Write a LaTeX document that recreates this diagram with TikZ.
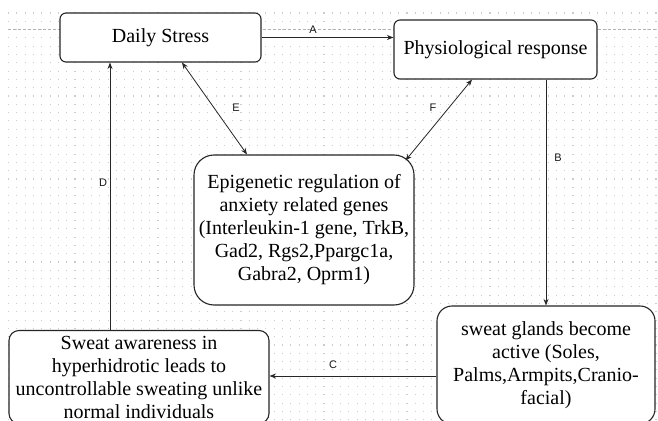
\documentclass[tikz,border=0pt]{standalone}
\usepackage{fontspec}
\setmainfont{Liberation Serif}
\newfontfamily\lblfont{Liberation Sans}
\usetikzlibrary{arrows.meta,calc}
\tikzset{
  box/.style={draw=black!85, line width=1.1pt, fill=white, align=center, inner sep=0pt,
    font=\fontsize{20}{23}\selectfont},
  conn/.style={draw=black!85, line width=0.8pt, -{Stealth[length=6.5pt,width=5pt]}},
  dconn/.style={draw=black!85, line width=0.8pt, {Stealth[length=6.5pt,width=5pt]}-{Stealth[length=6.5pt,width=5pt]}},
  lbl/.style={font=\lblfont\fontsize{11}{13}\selectfont, inner sep=0pt, text=black!90},
}
\begin{document}
\begin{tikzpicture}[x=1pt,y=-1pt]
\useasboundingbox (0,0) rectangle (658,420);
\clip (0,0) rectangle (658,420);
\fill[white] (0,0) rectangle (658,420);
% dotted grid
\foreach \r in {0,...,51}{
  \draw[black!20, line width=1.1pt, dash pattern=on 1.1pt off 7.2pt] (8,13+8.3*\r) -- (660,13+8.3*\r);
}
\draw[black!30, line width=0.8pt, dash pattern=on 3pt off 2pt] (8,29) -- (658,29);

% nodes
\node[box, rounded corners=6pt, minimum width=201pt, minimum height=49pt] (ds) at (160.5,37.5) {Daily Stress};
\node[box, rounded corners=6pt, minimum width=203pt, minimum height=59pt] (phys) at (495.5,49.5) {Physiological response};
\node[box, rounded corners=20pt, minimum width=220pt, minimum height=150pt] (epi) at (304,230) {Epigenetic regulation of\\anxiety related genes\\(Interleukin-1 gene, TrkB,\\Gad2, Rgs2,Ppargc1a,\\Gabra2, Oprm1)};
\node[box, rounded corners=15pt, minimum width=218pt, minimum height=118pt] (sg) at (546,365) {sweat glands become\\active (Soles,\\Palms,Armpits,Cranio-\\facial)};
\node[box, rounded corners=10pt, minimum width=260pt, minimum height=93pt] (sa) at (139,377) {Sweat awareness in\\hyperhidrotic leads to\\uncontrollable sweating unlike\\normal individuals};

% helper coordinates
\coordinate (dx) at (110,0);
\coordinate (cy) at (0,376);
\coordinate (ex1) at (182,0);
\coordinate (ex2) at (247,0);
\coordinate (fx1) at (472,0);

% connectors
\draw[conn] (ds.east) -- (ds.east -| phys.west);
\draw[conn] (sg.north |- phys.south) -- (sg.north);
\draw[conn] (sg.west |- cy) -- (sa.east |- cy);
\draw[conn] (sa.north -| dx) -- (ds.south -| dx);
\draw[dconn] (ds.south -| ex1) -- (epi.north -| ex2);
\draw[dconn] (phys.south -| fx1) -- ($(epi.north east)+(-9,6)$);

% labels
\node[lbl] (la) at (313,30) {A};
\node[lbl] (lb) at (558,158) {B};
\node[lbl] (lc) at (333,365) {C};
\node[lbl] (ld) at (103,183) {D};
\node[lbl] (le) at (236,108) {E};
\node[lbl] (lf) at (433,108) {F};
\end{tikzpicture}
\end{document}
